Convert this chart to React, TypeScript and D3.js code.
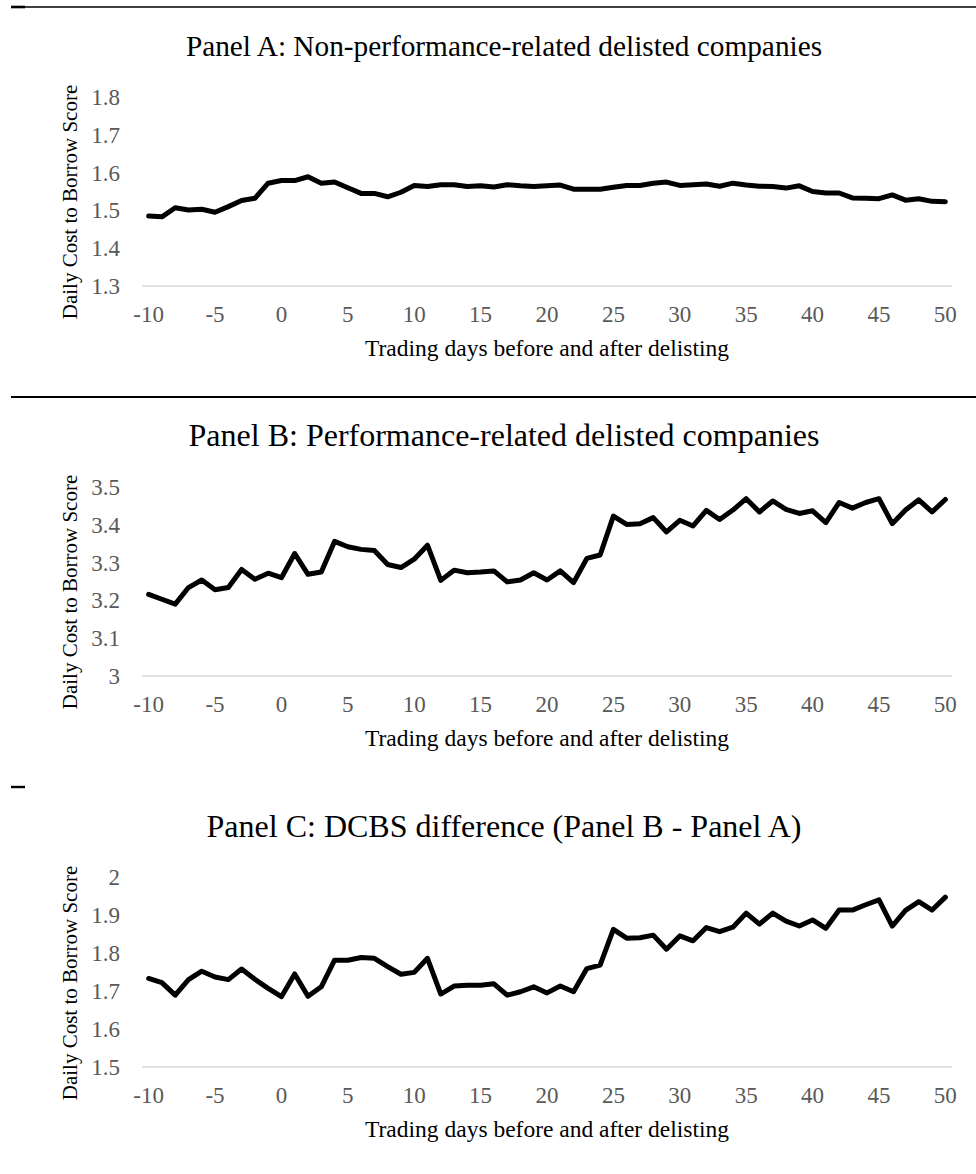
import React, { useEffect, useRef } from "react";
import * as d3 from "d3";

// trading days relative to delisting
const days = d3.range(-10, 51);
const xTickLabels = [-10, -5, 0, 5, 10, 15, 20, 25, 30, 35, 40, 45, 50];

const panelATitle = "Panel A: Non-performance-related delisted companies";
const panelBTitle = "Panel B: Performance-related delisted companies";
const panelCTitle = "Panel C: DCBS difference (Panel B - Panel A)";

const panelATicks = [1.3, 1.4, 1.5, 1.6, 1.7, 1.8];
const panelBTicks = [3, 3.1, 3.2, 3.3, 3.4, 3.5];
const panelCTicks = [1.5, 1.6, 1.7, 1.8, 1.9, 2];

const panelAValues = [
  1.485, 1.483, 1.507, 1.501, 1.503, 1.495, 1.51, 1.526, 1.532, 1.572,
  1.579, 1.579, 1.589, 1.572, 1.575, 1.56, 1.545, 1.545, 1.536, 1.548,
  1.566, 1.563, 1.568, 1.568, 1.563, 1.565, 1.562, 1.568, 1.565, 1.563,
  1.565, 1.567, 1.556, 1.556, 1.556, 1.561, 1.566, 1.566, 1.572, 1.575,
  1.566, 1.568, 1.57, 1.564, 1.572, 1.567, 1.564, 1.563, 1.559, 1.565,
  1.55, 1.546, 1.546, 1.533, 1.532, 1.531, 1.541, 1.527, 1.531, 1.524,
  1.523,
];

const panelBValues = [
  3.216, 3.203, 3.19, 3.234, 3.254, 3.228, 3.234, 3.282, 3.256, 3.272,
  3.26, 3.324, 3.269, 3.275, 3.356, 3.342, 3.335, 3.332, 3.295, 3.287,
  3.309, 3.346, 3.253, 3.28, 3.273, 3.275, 3.278, 3.249, 3.254, 3.273,
  3.254, 3.278, 3.247, 3.311, 3.32, 3.423, 3.401, 3.403, 3.419, 3.381,
  3.412, 3.397, 3.438, 3.414, 3.439, 3.469, 3.434, 3.463, 3.441, 3.43,
  3.437, 3.406, 3.459, 3.444, 3.459, 3.469, 3.403, 3.439, 3.466, 3.434,
  3.467,
];

const panelCValues = [
  1.733, 1.722, 1.689, 1.73, 1.752, 1.737, 1.73, 1.758, 1.731, 1.707,
  1.685, 1.745, 1.686, 1.711, 1.781, 1.781, 1.788, 1.786, 1.764, 1.744,
  1.749, 1.786, 1.692, 1.713, 1.715, 1.715, 1.719, 1.689, 1.698, 1.711,
  1.695, 1.713, 1.698, 1.759, 1.768, 1.862, 1.839, 1.84, 1.847, 1.81,
  1.845, 1.832, 1.867, 1.856, 1.868, 1.905, 1.876, 1.905, 1.884, 1.871,
  1.887, 1.865, 1.913, 1.913, 1.927, 1.94, 1.871, 1.912, 1.935, 1.913,
  1.947,
];

const yTitle = "Daily Cost to Borrow Score";
const xTitle = "Trading days before and after delisting";

const panels = [
  { title: panelATitle, titleSize: 29.3, ticks: panelATicks, values: panelAValues, axisY: 286, plotH: 189 },
  { title: panelBTitle, titleSize: 32, ticks: panelBTicks, values: panelBValues, axisY: 676, plotH: 189 },
  { title: panelCTitle, titleSize: 32, ticks: panelCTicks, values: panelCValues, axisY: 1067, plotH: 190 },
];

const font = "Liberation Serif, Tinos, DejaVu Serif, serif";

function App() {
  const svgRef = useRef<SVGSVGElement | null>(null);

  useEffect(() => {
    const svg = d3.select(svgRef.current);
    svg.selectAll("*").remove();

    const width = 976;
    const x = d3.scaleBand<number>().domain(days).range([142, 952]);
    const cx = (d: number) => (x(d) ?? 0) + x.bandwidth() / 2;

    // separator rules
    svg.append("line").attr("x1", 11).attr("x2", width).attr("y1", 7).attr("y2", 7)
      .attr("stroke", "#000").attr("stroke-width", 1.3);
    svg.append("line").attr("x1", 11).attr("x2", 25).attr("y1", 7).attr("y2", 7)
      .attr("stroke", "#000").attr("stroke-width", 2.6);
    svg.append("line").attr("x1", 11).attr("x2", width).attr("y1", 397).attr("y2", 397)
      .attr("stroke", "#000").attr("stroke-width", 2.2);
    svg.append("line").attr("x1", 11).attr("x2", 25).attr("y1", 787).attr("y2", 787)
      .attr("stroke", "#000").attr("stroke-width", 2.4);

    panels.forEach((p) => {
      const g = svg.append("g").style("font-family", font);
      const domain = [p.ticks[0], p.ticks[p.ticks.length - 1]];
      const y = d3.scaleLinear().domain(domain).range([p.axisY, p.axisY - p.plotH]);

      // title
      g.append("text")
        .attr("x", 504)
        .attr("y", p.axisY - 230)
        .attr("text-anchor", "middle")
        .attr("font-size", p.titleSize)
        .attr("fill", "#000")
        .text(p.title);

      // y tick labels
      g.selectAll(".ytick")
        .data(p.ticks)
        .join("text")
        .attr("x", 120)
        .attr("y", (d) => y(d) + 8)
        .attr("text-anchor", "end")
        .attr("font-size", 23)
        .attr("fill", "#595959")
        .text((d) => String(d));

      // category axis line
      g.append("line")
        .attr("x1", 142)
        .attr("x2", 952)
        .attr("y1", p.axisY)
        .attr("y2", p.axisY)
        .attr("stroke", "#d9d9d9")
        .attr("stroke-width", 1.5);

      // x tick labels
      g.selectAll(".xtick")
        .data(xTickLabels)
        .join("text")
        .attr("x", (d) => cx(d))
        .attr("y", p.axisY + 36)
        .attr("text-anchor", "middle")
        .attr("font-size", 23)
        .attr("fill", "#595959")
        .text((d) => String(d));

      // axis titles
      g.append("text")
        .attr("x", 547)
        .attr("y", p.axisY + 70)
        .attr("text-anchor", "middle")
        .attr("font-size", 23.5)
        .attr("fill", "#000")
        .text(xTitle);

      g.append("text")
        .attr("transform", `translate(77, ${p.axisY - 84}) rotate(-90)`)
        .attr("text-anchor", "middle")
        .attr("font-size", 21)
        .attr("fill", "#000")
        .text(yTitle);

      // series
      const line = d3
        .line<number>()
        .x((d, i) => cx(days[i]))
        .y((d) => y(d));

      g.append("path")
        .datum(p.values)
        .attr("fill", "none")
        .attr("stroke", "#000")
        .attr("stroke-width", 5)
        .attr("stroke-linejoin", "round")
        .attr("stroke-linecap", "round")
        .attr("d", line);
    });
  }, []);

  return (
    <svg
      ref={svgRef}
      width={976}
      height={1174}
      style={{ position: "absolute", left: 0, top: 0, background: "#fff" }}
    ></svg>
  );
}

export default App;
